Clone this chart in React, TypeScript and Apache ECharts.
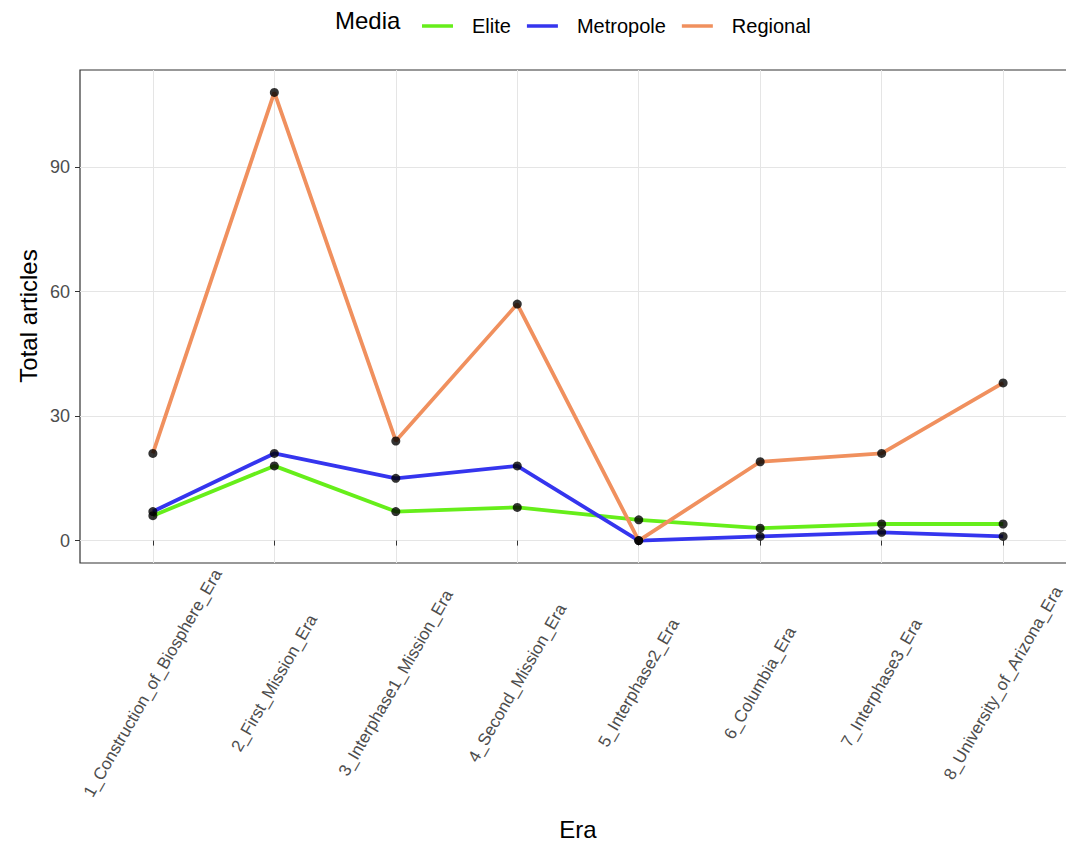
import React, { useEffect, useRef } from "react";
import * as echarts from "echarts";

const eras = [
  "1_Construction_of_Biosphere_Era",
  "2_First_Mission_Era",
  "3_Interphase1_Mission_Era",
  "4_Second_Mission_Era",
  "5_Interphase2_Era",
  "6_Columbia_Era",
  "7_Interphase3_Era",
  "8_University_of_Arizona_Era",
];
const eliteValues = [6, 18, 7, 8, 5, 3, 4, 4];
const metropoleValues = [7, 21, 15, 18, 0, 1, 2, 1];
const regionalValues = [21, 108, 24, 57, 0, 19, 21, 38];
const yTicks = [0, 30, 60, 90];
const mediaNames = ["Elite", "Metropole", "Regional"];
const mediaColors = ["#66EE1A", "#3535EE", "#F0905E"];

const FONT = "Liberation Sans, Arial, sans-serif";

export default function App() {
  const ref = useRef<HTMLDivElement>(null);
  useEffect(() => {
    if (!ref.current) return;
    const chart = echarts.init(ref.current, null, { renderer: "svg" });
    const xPos = eras.map((_, i) => i + 1);
    const seriesValues = [eliteValues, metropoleValues, regionalValues];
    const lineSeries = mediaNames.map((name, k) => ({
      name,
      type: "line",
      data: seriesValues[k].map((v, i) => [xPos[i], v]),
      showSymbol: false,
      symbol: "none",
      lineStyle: { width: 3.8, color: mediaColors[k] },
      itemStyle: { color: mediaColors[k] },
      z: 2 + k,
    }));
    const pointSeries = mediaNames.map((name, k) => ({
      name: name + "_pts",
      type: "scatter",
      data: seriesValues[k].map((v, i) => [xPos[i], v]),
      symbol: "circle",
      symbolSize: 9,
      itemStyle: { color: "#000000" },
      z: 10,
    }));
    chart.setOption({
      animation: false,
      backgroundColor: "#FFFFFF",
      textStyle: { fontFamily: FONT },
      grid: {
        left: 80,
        top: 70,
        width: 996,
        height: 493,
        containLabel: false,
        outerBoundsMode: "none",
        show: true,
        borderColor: "#333333",
        borderWidth: 1.2,
        backgroundColor: "transparent",
      },
      legend: {
        data: mediaNames,
        left: 417,
        top: 11,
        icon: "rect",
        itemWidth: 31,
        itemHeight: 3.5,
        itemGap: 16,
        textStyle: {
          fontSize: 20,
          color: "#000000",
          padding: [0, 0, 0, 14],
        },
      },
      graphic: [
        {
          type: "text",
          left: 335,
          top: 8,
          style: { text: "Media", fontSize: 24, fill: "#000000", fontFamily: FONT },
        },
        {
          type: "text",
          x: 578,
          y: 829,
          style: {
            text: "Era",
            fontSize: 24,
            fill: "#000000",
            fontFamily: FONT,
            align: "center",
            verticalAlign: "middle",
          },
        },
        {
          type: "text",
          x: 28,
          y: 316,
          rotation: Math.PI / 2,
          style: {
            text: "Total articles",
            fontSize: 24,
            fill: "#000000",
            fontFamily: FONT,
            align: "center",
            verticalAlign: "middle",
          },
        },
      ],
      xAxis: {
        type: "value",
        min: 0.4,
        max: 8.6,
        axisLine: { show: false },
        axisTick: {
          show: true,
          customValues: xPos,
          length: 5,
          lineStyle: { color: "#333333", width: 1 },
        },
        axisLabel: {
          customValues: xPos,
          formatter: (v: number) => eras[Math.round(v) - 1] ?? "",
          rotate: 60,
          align: "center",
          verticalAlign: "middle",
          margin: 120,
          fontSize: 17,
          color: "#4D4D4D",
        },
        splitLine: { show: true, lineStyle: { color: "#E5E5E5", width: 1 } },
      },
      yAxis: {
        type: "value",
        min: -5.4,
        max: 113.4,
        axisLine: { show: false },
        axisTick: {
          show: true,
          customValues: yTicks,
          length: 5,
          lineStyle: { color: "#333333", width: 1 },
        },
        axisLabel: {
          customValues: yTicks,
          fontSize: 18,
          color: "#4D4D4D",
          margin: 10,
        },
        splitLine: { show: true, lineStyle: { color: "#E5E5E5", width: 1 } },
      },
      series: [...lineSeries, ...pointSeries],
    });
    return () => chart.dispose();
  }, []);
  return (
    <div
      ref={ref}
      style={{ position: "fixed", left: 0, top: 0, width: 1066, height: 843 }}
    />
  );
}
